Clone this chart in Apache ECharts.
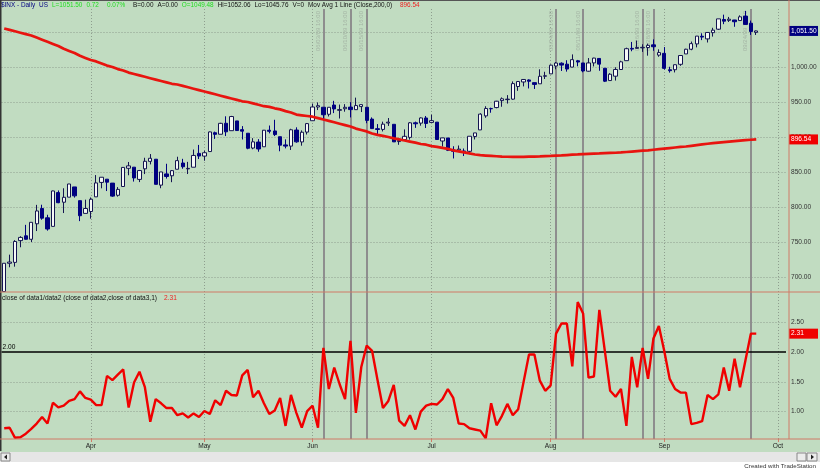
<!DOCTYPE html>
<html><head><meta charset="utf-8">
<script src="https://cdn.jsdelivr.net/npm/echarts@6/dist/echarts.min.js"></script>
<style>html,body{margin:0;padding:0;background:#fff}#c{width:820px;height:471px}</style>
</head><body><div id="c"></div>
<script>
// ---- categories (trading days, 2009) ----
const dates = [
'03/10','03/11','03/12','03/13','03/16','03/17','03/18','03/19','03/20','03/23','03/24','03/25','03/26','03/27','03/30','03/31',
'04/01','04/02','04/03','04/06','04/07','04/08','04/09','04/13','04/14','04/15','04/16','04/17','04/20','04/21','04/22','04/23','04/24','04/27','04/28','04/29','04/30',
'05/01','05/04','05/05','05/06','05/07','05/08','05/11','05/12','05/13','05/14','05/15','05/18','05/19','05/20','05/21','05/22','05/26','05/27','05/28','05/29',
'06/01','06/02','06/03','06/04','06/05','06/08','06/09','06/10','06/11','06/12','06/15','06/16','06/17','06/18','06/19','06/22','06/23','06/24','06/25','06/26','06/29','06/30',
'07/01','07/02','07/06','07/07','07/08','07/09','07/10','07/13','07/14','07/15','07/16','07/17','07/20','07/21','07/22','07/23','07/24','07/27','07/28','07/29','07/30','07/31',
'08/03','08/04','08/05','08/06','08/07','08/10','08/11','08/12','08/13','08/14','08/17','08/18','08/19','08/20','08/21','08/24','08/25','08/26','08/27','08/28','08/31',
'09/01','09/02','09/03','09/04','09/08','09/09','09/10','09/11','09/14','09/15','09/16','09/17','09/18','09/21','09/22','09/23','09/24','09/25','09/28','09/29','09/30',
'10/01','10/02'];

// ---- $INX daily OHLC ----
const open = [679.28,719.59,720.89,751.97,758.84,753.88,776.01,797.92,784.58,772.31,820.60,806.81,814.06,828.68,809.07,790.88,
793.59,814.53,835.13,839.75,834.12,816.76,829.29,855.33,856.88,839.44,854.54,865.18,868.27,831.25,847.26,844.62,853.91,862.82,854.48,856.85,876.59,
872.74,879.21,906.10,903.95,919.58,909.03,922.99,910.52,905.40,884.24,892.76,886.07,909.67,908.62,900.42,888.68,887.00,909.95,892.96,907.02,
923.26,942.87,942.51,932.49,945.67,938.12,940.35,942.73,939.04,943.44,942.45,925.60,911.89,910.86,919.96,918.13,893.46,896.31,899.45,920.26,919.86,927.15,
920.82,921.24,894.27,898.60,881.90,881.28,880.03,879.57,900.77,910.15,930.17,940.56,942.07,951.97,953.40,954.07,972.16,978.63,981.48,977.66,976.01,986.80,
990.22,1001.41,1005.41,1004.06,999.83,1008.89,1005.77,994.00,1005.86,1012.23,998.18,980.62,986.88,996.41,1009.06,1026.59,1026.63,1027.35,1027.81,1031.62,1017.00,
1019.52,996.07,996.12,1003.84,1018.67,1025.36,1032.99,1043.92,1040.15,1049.03,1053.99,1067.87,1066.60,1067.14,1066.35,1072.69,1062.56,1049.48];
const high = [719.60,731.92,752.63,758.29,774.53,778.12,803.04,803.24,788.91,823.37,823.65,826.78,832.98,828.68,809.07,810.48,
813.62,845.61,842.50,839.75,834.12,828.42,856.91,864.31,856.88,852.93,870.35,875.63,868.27,850.09,861.78,852.87,871.80,868.83,864.48,882.06,888.70,
880.48,907.85,907.70,920.28,929.58,930.17,922.99,915.57,905.40,898.36,896.97,910.00,916.39,924.60,900.42,896.65,911.76,913.84,909.45,920.02,
947.77,949.38,942.51,942.47,951.69,946.33,946.92,949.77,956.23,946.30,942.45,928.00,918.44,921.93,927.09,918.13,898.69,910.85,921.42,922.00,927.99,930.01,
931.92,921.24,898.72,898.60,886.80,887.86,883.57,901.05,905.84,933.95,943.96,941.89,951.62,956.53,959.83,979.42,979.79,982.49,982.35,977.76,996.68,993.18,
1003.61,1007.12,1006.64,1009.68,1018.00,1010.12,1005.77,1012.78,1013.14,1012.60,998.18,991.20,999.61,1008.92,1027.59,1035.82,1037.75,1032.47,1033.33,1039.47,1025.21,
1028.45,1000.34,1003.43,1016.48,1026.07,1036.34,1044.14,1048.18,1049.74,1056.04,1068.76,1074.77,1071.52,1067.28,1073.81,1080.15,1066.29,1052.06];
const low = [679.28,713.85,714.76,742.46,753.37,749.93,765.64,781.82,766.20,772.31,805.48,791.37,814.06,813.43,779.81,790.88,
783.32,814.53,826.70,822.79,814.53,814.84,829.29,845.35,836.31,835.58,847.04,860.87,832.39,826.83,840.57,835.45,853.91,854.65,847.12,856.85,868.51,
866.10,879.21,897.34,903.95,901.36,909.03,908.68,896.46,882.52,882.52,878.94,886.07,905.22,901.37,879.61,883.75,881.46,891.87,887.60,903.56,
923.26,938.46,923.85,929.32,934.13,926.44,936.15,927.97,939.04,935.66,919.65,911.60,903.78,907.94,915.80,893.04,888.86,896.31,896.27,913.03,916.18,912.86,
920.82,896.42,886.36,879.93,869.32,878.45,872.81,875.32,896.50,910.15,927.45,934.65,940.99,943.22,947.75,953.27,965.95,972.29,969.35,968.65,976.01,982.85,
990.22,996.68,994.31,993.36,999.83,1000.99,992.40,993.36,1000.82,994.60,978.51,980.62,980.62,996.39,1009.06,1022.48,1026.21,1021.57,1016.20,1023.13,1014.62,
996.28,991.97,992.25,1001.65,1018.67,1023.97,1028.04,1038.40,1035.00,1043.42,1052.87,1061.20,1064.27,1057.46,1066.35,1060.39,1045.85,1045.76];
const close = [719.60,721.36,750.74,756.55,753.89,778.12,794.35,784.04,768.54,822.92,806.12,813.88,832.86,815.94,787.53,797.87,
811.08,834.38,842.50,835.48,815.55,825.16,856.56,858.73,841.50,852.06,865.30,869.60,832.39,850.08,843.55,851.92,866.23,857.51,855.16,873.64,872.81,
877.52,907.24,903.80,919.53,907.39,929.23,909.24,908.35,883.92,893.07,882.88,909.71,908.13,903.47,888.33,887.00,910.33,893.06,906.83,919.14,
942.87,944.74,931.76,942.46,940.09,939.14,942.43,939.15,944.89,946.21,923.72,911.97,910.71,918.37,921.23,893.04,895.10,900.94,920.26,918.90,927.23,919.32,
923.33,896.42,898.72,881.03,879.56,882.68,879.13,901.05,905.84,932.68,940.74,940.38,951.13,954.58,954.07,976.29,979.26,982.18,979.62,975.15,986.75,987.48,
1002.63,1005.65,1002.72,997.08,1010.48,1007.10,994.35,1005.81,1012.73,1004.09,979.73,989.67,996.46,1007.37,1026.13,1025.57,1028.00,1028.12,1030.98,1028.93,1020.62,
998.04,994.75,1003.24,1016.40,1025.39,1033.37,1044.14,1042.73,1049.34,1052.63,1068.76,1065.49,1068.30,1064.66,1071.66,1060.87,1050.78,1051.50];

// ---- Mov Avg 1 Line (Close,200,0) ----
const ma200 = [1055,1053,1051,1049,1047,1045,1042,1039,1036,1033,1030,1026,1023,1020,1016,1013,
1010,1008,1005,1002,1000,997,995,992,990,988,986,984,982,980,978,976,975,973,971,969,967,
965,963,961,959,957,955,953,951,950,948,946,944,943,941,939.5,937,935,932,931,930,
929,927,925,923,921,919,917,915,912,910,908,905,903,901.5,900,898,896.5,895,893.5,892,890,889,
887,886,884.5,883,881,879.5,878,876.5,875,874,873.5,873,872.5,872,871.8,871.7,871.6,871.7,871.9,872.1,872.3,872.6,
872.9,873.3,873.7,874.2,874.7,875.1,875.6,875.9,876.2,876.5,876.9,877.2,877.5,878,878.6,879.2,879.8,880.4,881,881.8,882.6,
883.4,884.2,885,885.8,886.4,887.4,888.4,889.4,890.4,891.3,892,892.7,893.4,894.1,894.8,895.5,896.1,896.54];

// ---- close of data1/data2 ----
const ratio = [0.72,0.73,0.56,0.57,0.63,0.71,0.80,0.91,0.80,1.15,1.07,1.10,1.18,1.21,1.34,1.23,
1.20,1.11,1.11,1.60,1.53,1.62,1.71,1.07,1.49,1.67,1.41,0.83,1.21,1.14,1.06,1.06,0.94,0.97,0.90,0.97,0.91,
1.01,0.96,1.19,1.11,1.35,1.28,1.27,1.61,1.70,1.24,1.35,1.14,0.96,1.02,1.23,0.76,1.28,0.98,0.73,1.01,
1.10,0.73,2.07,1.38,1.74,1.46,1.21,2.19,0.98,1.75,2.11,2.02,1.53,1.06,1.18,1.45,0.85,0.76,0.94,0.70,1.00,1.10,
1.13,1.12,1.21,1.38,1.23,0.80,0.79,0.72,0.70,0.68,0.55,1.14,0.77,0.93,1.13,0.94,1.04,1.50,1.96,1.96,1.52,1.35,
1.44,2.31,2.48,2.48,1.76,2.84,2.65,1.57,1.59,2.71,2.03,1.35,1.25,1.38,0.76,1.92,1.41,2.07,1.55,2.23,2.44,
2.02,1.55,1.38,1.32,1.32,0.79,0.81,0.84,1.28,1.21,1.29,1.74,1.35,1.89,1.41,1.86,2.31,2.31];

const monthStarts = ['04/01','05/01','06/01','07/01','08/03','09/01','10/01'];
const monthNames = {'04':'Apr','05':'May','06':'Jun','07':'Jul','08':'Aug','09':'Sep','10':'Oct'};
const eventDates = ['06/03','06/10','06/15','08/04','08/11','08/26','08/28','09/24'];
const priceTicks = [700,750,800,850,900,950,1000];
const priceGrid = [700,750,800,850,900,950,1000,1050];
const ratioTicks = [1,1.5,2,2.5];
const lastPrice = 1051.50, lastMA = 896.54, lastRatio = 2.31, ratioLevel = 2;

const FONT = '"Liberation Sans", Arial, sans-serif';
const BG = '#c1dcc1';
const AXISC = '#d07a66';
const dotted = {color:'#8e9e8e', width:1, type:[1,2]};
const evLine = {color:'#8e8e8e', width:2, type:'solid'};
const HIDDEN = {color:'rgba(0,0,0,0)', width:0.01, type:'solid'};

const chart = echarts.init(document.getElementById('c'), null, {renderer:'canvas'});

const candleData = open.map((o,i)=>[o, close[i], low[i], high[i]]);

function tag(v, txt, bg){
  return {yAxis:v, lineStyle:HIDDEN,
    label:{show:true, position:'end', distance:3, formatter:txt, color:'#fff',
           backgroundColor:bg, padding:[2,2,1,2], width:25, fontSize:6.6, fontFamily:FONT}};
}

const upperMarks = []
  .concat(priceGrid.map(v=>({yAxis:v, lineStyle:dotted})))
  .concat(monthStarts.map(d=>({xAxis:d, lineStyle:dotted})))
  .concat(eventDates.map(d=>({xAxis:d, lineStyle:evLine,
     label:{show:true, position:'insideEndTop', distance:2, formatter: d+'/09 16:00',
            color:'#a4b4a4', fontSize:6, fontFamily:FONT}})));
const lowerMarks = []
  .concat(ratioTicks.filter(v=>v!==2).map(v=>({yAxis:v, lineStyle:dotted})))
  .concat(monthStarts.map(d=>({xAxis:d, lineStyle:dotted})))
  .concat(eventDates.map(d=>({xAxis:d, lineStyle:evLine})))
  .concat([{yAxis:ratioLevel, lineStyle:{color:'#000', width:1.5, type:'solid'},
     label:{show:true, position:'insideStartTop', distance:1, formatter:'2.00', color:'#000', fontSize:6.6, fontFamily:FONT}}]);

// title pieces: text, reference start x, colour
const titleItems = [
  ['$INX - Daily',1,'#000080'],['US',30,'#000080'],['L=1051.50',52,'#22dd22'],['0.72',82,'#22dd22'],
  ['0.07%',107,'#22dd22'],['B=0.00',133,'#111'],['A=0.00',157,'#111'],['O=1049.48',180,'#22dd22'],
  ['Hi=1052.06',216,'#111'],['Lo=1045.76',253,'#111'],['V=0',289,'#111'],
  ['Mov Avg 1 Line (Close,200,0)',305,'#111'],['896.54',400,'#ee2222']];
const TFONT = '6.4px ' + FONT;
const mctx = document.createElement('canvas').getContext('2d');
mctx.font = TFONT;

const graphics = [];
let prevEnd = -10;
titleItems.forEach(t=>{
  const x = Math.max(t[1], prevEnd + 4);
  prevEnd = x + mctx.measureText(t[0]).width;
  graphics.push({type:'text', x:x, y:5, z:20,
    style:{text:t[0], fill:t[2], font:TFONT, verticalAlign:'middle'}});
});
graphics.push({type:'text', x:2, y:298, z:20, style:{text:'close of data1/data2 (close of data2,close of data3,1)', fill:'#111', font:'6.6px '+FONT, verticalAlign:'middle'}});
graphics.push({type:'text', x:164, y:298, z:20, style:{text:'2.31', fill:'#ee2222', font:'6.6px '+FONT, verticalAlign:'middle'}});
// frame lines
graphics.push({type:'rect', shape:{x:0,y:0,width:820,height:1}, style:{fill:'#555'}, z:20});
graphics.push({type:'rect', shape:{x:0,y:0,width:1.5,height:451}, style:{fill:'#333'}, z:20});
graphics.push({type:'line', shape:{x1:0,y1:292,x2:820,y2:292}, style:{stroke:AXISC, lineWidth:1}, z:20});
graphics.push({type:'line', shape:{x1:789,y1:0,x2:789,y2:439}, style:{stroke:AXISC, lineWidth:1}, z:20});
graphics.push({type:'line', shape:{x1:0,y1:439,x2:820,y2:439}, style:{stroke:AXISC, lineWidth:1}, z:20});
// scroll bar + footer
graphics.push({type:'rect', shape:{x:0,y:452,width:820,height:19}, style:{fill:'#ffffff'}, z:15});
graphics.push({type:'rect', shape:{x:0,y:452,width:820,height:10}, style:{fill:'#e6e6e6'}, z:16});
graphics.push({type:'rect', shape:{x:1,y:453,width:9,height:8}, style:{fill:'#ececec', stroke:'#888', lineWidth:1}, z:17});
graphics.push({type:'polygon', shape:{points:[[4,457],[7,454.5],[7,459.5]]}, style:{fill:'#222'}, z:18});
graphics.push({type:'rect', shape:{x:797,y:453,width:9,height:8}, style:{fill:'#ececec', stroke:'#888', lineWidth:1}, z:17});
graphics.push({type:'rect', shape:{x:807,y:453,width:10,height:8}, style:{fill:'#ececec', stroke:'#888', lineWidth:1}, z:17});
graphics.push({type:'polygon', shape:{points:[[814,457],[811,454.5],[811,459.5]]}, style:{fill:'#222'}, z:18});
graphics.push({type:'text', x:816, y:466, z:20, style:{text:'Created with TradeStation', fill:'#333', font:'6.2px '+FONT, align:'right', verticalAlign:'middle'}});

const option = {
  backgroundColor: BG,
  animation: false,
  grid: [
    {left:1.5, top:9, width:784.5, height:283},
    {left:1.5, top:292, width:784.5, height:147}
  ],
  xAxis: [
    {type:'category', gridIndex:0, data:dates, boundaryGap:true,
     axisLine:{show:false}, axisTick:{show:false}, axisLabel:{show:false}, splitLine:{show:false}},
    {type:'category', gridIndex:1, data:dates, boundaryGap:true,
     axisLine:{show:false},
     axisTick:{show:true, alignWithLabel:true, length:3, lineStyle:{color:AXISC},
        interval:(i,v)=>monthStarts.includes(v)},
     axisLabel:{show:true, margin:4, fontSize:6.6, fontFamily:FONT, color:'#222',
        interval:(i,v)=>monthStarts.includes(v), formatter:v=>monthNames[v.slice(0,2)]},
     splitLine:{show:false}}
  ],
  yAxis: [
    {type:'value', gridIndex:0, position:'right', offset:3, min:678.571, max:1082.857, scale:true,
     axisLine:{show:false}, axisTick:{show:false}, splitLine:{show:false},
     axisLabel:{show:true, customValues:priceTicks, margin:2, fontSize:6.6, fontFamily:FONT, color:'#333',
       formatter:v=>v.toLocaleString('en-US',{minimumFractionDigits:2, maximumFractionDigits:2})}},
    {type:'value', gridIndex:1, position:'right', offset:3, min:0.54, max:3.01,
     axisLine:{show:false}, axisTick:{show:false}, splitLine:{show:false},
     axisLabel:{show:true, customValues:ratioTicks, margin:2, fontSize:6.6, fontFamily:FONT, color:'#333',
       formatter:v=>v.toFixed(2)}}
  ],
  series: [
    {type:'candlestick', xAxisIndex:0, yAxisIndex:0, data:candleData, barWidth:3.8, z:2,
     itemStyle:{color:'#f6f9f6', color0:'#000080', borderColor:'#141450', borderColor0:'#000080', borderWidth:1},
     markLine:{silent:true, z:1, symbol:['none','none'], animation:false, label:{show:false}, data:upperMarks}},
    {type:'line', xAxisIndex:0, yAxisIndex:0, data:ma200, showSymbol:false, z:3,
     lineStyle:{color:'#e8140f', width:2.7},
     markLine:{silent:true, z:10, symbol:['none','none'], animation:false,
       data:[tag(lastPrice,'1,051.50','#000080'), tag(lastMA,'896.54','#f00000')]}},
    {type:'line', xAxisIndex:1, yAxisIndex:1, data:ratio, showSymbol:false, z:3,
     lineStyle:{color:'#f00000', width:2.4},
     markLine:{silent:true, z:1, symbol:['none','none'], animation:false, label:{show:false}, data:lowerMarks}},
    {type:'line', xAxisIndex:1, yAxisIndex:1, data:[], z:10,
     markLine:{silent:true, z:10, symbol:['none','none'], animation:false,
       data:[tag(lastRatio, lastRatio.toFixed(2), '#f00000')]}}
  ],
  graphic: graphics
};
chart.setOption(option);
</script></body></html>
